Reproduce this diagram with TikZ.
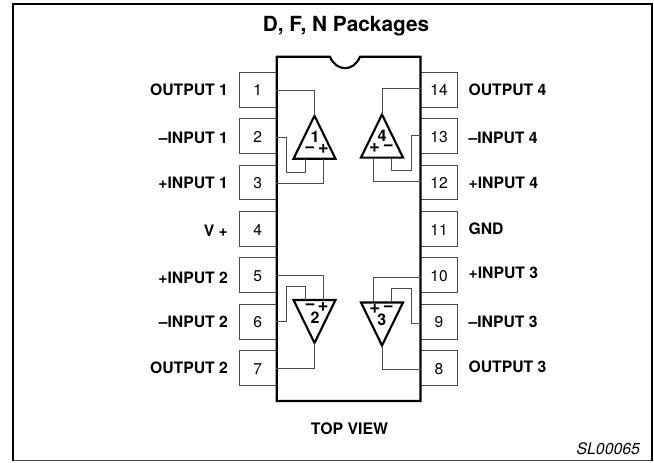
\documentclass[tikz,border=0pt]{standalone}
\usepackage{fontspec}
\setmainfont{TeX Gyre Heros}
\usepackage{tikz}
\usetikzlibrary{positioning, shapes.geometric}
\definecolor{colorWire}{gray}{0.3}
\tikzset{
  pinbox/.style={draw=colorWire, line width=0.75pt, fill=white, minimum width=27.6pt, minimum height=26pt, inner sep=0pt, outer sep=0pt, font=\fontsize{11.7}{12}\selectfont, text height=9.4pt, text depth=0pt},
  pinlabel/.style={inner sep=0pt, outer sep=0pt, text height=8.6pt, text depth=0pt, font=\fontsize{11.8}{12}\selectfont\bfseries},
  opamp/.style={draw=black, line width=1.6pt, isosceles triangle, isosceles triangle stretches, minimum width=31.5pt, minimum height=32.3pt, inner sep=0pt, outer sep=0pt, anchor=apex},
  wire/.style={draw=colorWire, line width=0.7pt},
  ampnum/.style={inner sep=0pt, font=\fontsize{12}{12}\selectfont\bfseries},
  ampsign/.style={inner sep=0pt, font=\fontsize{14}{14}\selectfont\bfseries}
}
\begin{document}
\begin{tikzpicture}[x=0.75pt, y=-0.75pt, node distance=8.8pt]
\path[use as bounding box, fill=white] (0,0) rectangle (654,462);
\draw[colorWire, line width=0.8pt] (12.8,460.7) -- (652,460.7);
\draw[black, line width=1.6pt] (12.8,460.7) -- (12.8,4.3) -- (652.4,4.3) -- (652.4,460.7);
\node[font=\fontsize{15.6}{18}\selectfont\bfseries] (title) at (346,26) {D, F, N Packages};
\node[font=\fontsize{11.9}{14}\selectfont\bfseries] (topview) at (349.5,429) {TOP VIEW};
\node[font=\fontsize{11.9}{14}\selectfont\itshape] (code) at (608.3,449) {SL00065};
\node[pinbox] (p1) at (257.8,89.7) {1};
\node[pinbox, below=of p1] (p2) {2};
\node[pinbox, below=of p2] (p3) {3};
\node[pinbox, below=of p3] (p4) {4};
\node[pinbox, below=of p4] (p5) {5};
\node[pinbox, below=of p5] (p6) {6};
\node[pinbox, below=of p6] (p7) {7};
\node[pinbox] (p14) at (439,89.7) {14};
\node[pinbox, below=of p14] (p13) {13};
\node[pinbox, below=of p13] (p12) {12};
\node[pinbox, below=of p12] (p11) {11};
\node[pinbox, below=of p11] (p10) {10};
\node[pinbox, below=of p10] (p9) {9};
\node[pinbox, below=of p9] (p8) {8};
\node[pinlabel, left=8.6pt of p1] (l1) {OUTPUT 1};
\node[pinlabel, left=8.6pt of p2, yshift=-1.5pt] (l2) {--INPUT 1};
\node[pinlabel, left=8.6pt of p3] (l3) {+INPUT 1};
\node[pinlabel, left=8.6pt of p4, yshift=-1.5pt] (l4) {V +};
\node[pinlabel, left=8.6pt of p5, yshift=-1.5pt] (l5) {+INPUT 2};
\node[pinlabel, left=8.6pt of p6] (l6) {--INPUT 2};
\node[pinlabel, left=8.6pt of p7] (l7) {OUTPUT 2};
\node[pinlabel, right=8.4pt of p14] (l14) {OUTPUT 4};
\node[pinlabel, right=8.4pt of p13, yshift=-1.5pt] (l13) {--INPUT 4};
\node[pinlabel, right=8.4pt of p12] (l12) {+INPUT 4};
\node[pinlabel, right=8.4pt of p11] (l11) {GND};
\node[pinlabel, right=8.4pt of p10, yshift=2pt] (l10) {+INPUT 3};
\node[pinlabel, right=8.4pt of p9] (l9) {--INPUT 3};
\node[pinlabel, right=8.4pt of p8, yshift=1.3pt] (l8) {OUTPUT 3};
\draw[black, line width=1.6pt, fill=white] (276.7,56.7) -- (330,56.7) .. controls (336,72) and (354,72) .. (360,56.7) -- (420.5,56.7) -- (420.5,401) -- (276.7,401) -- cycle;
\node[opamp, shape border rotate=90] (op1) at (314.5,115.7) {};
\node[opamp, shape border rotate=90] (op4) at (382,114.5) {};
\node[opamp, shape border rotate=270] (op2) at (314.5,343) {};
\node[opamp, shape border rotate=270] (op3) at (382,345.5) {};
\coordinate (op1m) at (305.7,158.5);
\coordinate (op1p) at (323.7,158.5);
\coordinate (op4p) at (373.3,157.5);
\coordinate (op4m) at (391.3,157.5);
\coordinate (op2m) at (305.7,299.5);
\coordinate (op2p) at (323.7,299.5);
\coordinate (op3p) at (373.3,302);
\coordinate (op3m) at (391.3,302);
\draw[wire] ([yshift=-0.7pt]p1.east) -| (op1.apex);
\draw[wire] ([yshift=-0.8pt]p2.east) -| (286.7,172.7) -| (op1m);
\draw[wire] ([yshift=-0.6pt]p3.east) -| (op1p);
\draw[wire] ([yshift=0.7pt]p14.west) -| (op4.apex);
\draw[wire] ([yshift=0.5pt]p13.west) -| (411,170.3) -| (op4m);
\draw[wire] ([yshift=0.6pt]p12.west) -| (op4p);
\draw[wire] (p5.east) -| (op2p);
\draw[wire] (p6.east) -| (286.7,286.7) -| (op2m);
\draw[wire] (p7.east) -| (op2.apex);
\draw[wire] ([yshift=-1.5pt]p10.west) -| (op3p);
\draw[wire] ([yshift=-1.5pt]p9.west) -| (411,288.7) -| (op3m);
\draw[wire] ([yshift=-1.3pt]p8.west) -| (op3.apex);
\node[ampnum] (n1) at (315,137) {1};
\node[ampsign] (m1) at (309.7,149.3) {\textminus};
\node[ampsign] (q1) at (323.3,149.3) {+};
\node[ampnum] (n4) at (382,136) {4};
\node[ampsign] (q4) at (374.5,148) {+};
\node[ampsign] (m4) at (388.3,148) {\textminus};
\node[ampnum] (n2) at (315,318) {2};
\node[ampsign] (m2) at (310,306.7) {\textminus};
\node[ampsign] (q2) at (323,307) {+};
\node[ampnum] (n3) at (381.7,319.3) {3};
\node[ampsign] (q3) at (374.7,309.3) {+};
\node[ampsign] (m3) at (388.3,309) {\textminus};
\end{tikzpicture}
\end{document}
